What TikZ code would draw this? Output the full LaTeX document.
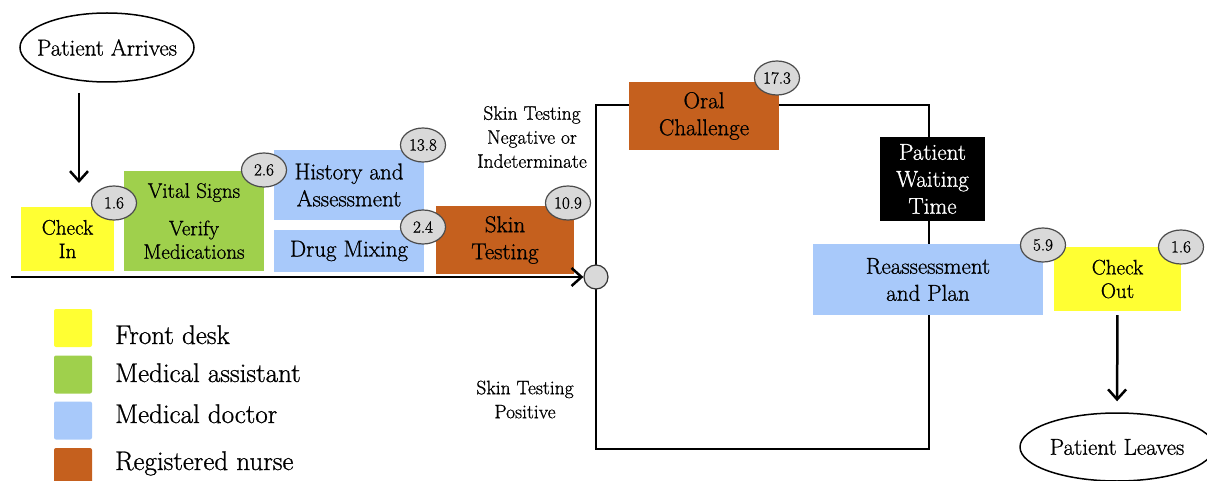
\documentclass[tikz,border=0pt]{standalone}
\usepackage{fontspec}
\setmainfont{Latin Modern Roman}[FakeBold=0.9]
\usetikzlibrary{arrows.meta,shapes.geometric,backgrounds}
\definecolor{fdesk}{HTML}{FFFF33}
\definecolor{massist}{HTML}{9FD04C}
\definecolor{mdoc}{HTML}{A8C9FA}
\definecolor{rnurse}{HTML}{C5601E}
\definecolor{badgefill}{HTML}{D9D9D9}
\begin{document}
\begin{tikzpicture}[x=1pt,y=-1pt,
  box/.style={rectangle, inner sep=0pt, align=center, font=\fontsize{23}{27}\selectfont},
  smallbox/.style={box, font=\fontsize{21}{23.5}\selectfont},
  badge/.style={ellipse, draw=black!70, line width=1.2pt, fill=badgefill, minimum width=45pt, minimum height=34pt, inner sep=0pt, font=\fontsize{17}{17}\selectfont},
  oval/.style={ellipse, draw, line width=1.5pt, fill=white, inner xsep=-16pt, inner ysep=0pt, font=\fontsize{23}{27}\selectfont},
  flow/.style={line width=2.5pt},
  arr/.style={flow, -{Straight Barb[length=10pt,width=18pt]}},
  lab/.style={align=center, inner sep=0pt, font=\fontsize{19.5}{24}\selectfont},
  legsq/.style={rectangle, minimum size=38pt, inner sep=0pt, rounded corners=2pt},
  legtxt/.style={anchor=base west, inner sep=0pt, font=\fontsize{27}{30}\selectfont}]
\useasboundingbox (0,0) rectangle (1207,481);

% start / end ovals
\node[oval, minimum width=174pt, minimum height=69pt] (arrive) at (107,47.5) {Patient Arrives};
\node[oval, minimum width=194pt, minimum height=68pt] (leave) at (1117,447) {Patient Leaves};

% activity boxes
\node[smallbox, fill=fdesk, minimum width=93pt, minimum height=64pt] (checkin) at (67.5,239) {Check\\In};
\node[smallbox, fill=massist, minimum width=140pt, minimum height=100pt] (vitals) at (194,221) {Vital Signs\\[14pt]Verify\\Medications};
\node[box, fill=mdoc, minimum width=150pt, minimum height=70pt] (history) at (349,185) {History and\\Assessment};
\node[box, fill=mdoc, minimum width=150pt, minimum height=42pt] (drug) at (349,251) {Drug Mixing};
\node[box, fill=rnurse, minimum width=138pt, minimum height=68pt] (skin) at (505,240) {Skin\\Testing};
\node[box, fill=rnurse, minimum width=150pt, minimum height=68pt] (oral) at (704,116) {Oral\\Challenge};
\node[box, fill=black, text=white, minimum width=105pt, minimum height=84pt] (wait) at (932.5,179) {Patient\\Waiting\\Time};
\node[box, fill=mdoc, minimum width=230pt, minimum height=71pt] (reass) at (928,279.5) {Reassessment\\and Plan};
\node[smallbox, fill=fdesk, minimum width=127pt, minimum height=64pt] (checkout) at (1117.5,279) {Check\\Out};

% time badges
\node[badge] (b1) at (114,203) {1.6};
\node[badge] (b2) at (264,170) {2.6};
\node[badge] (b3) at (423,145) {13.8};
\node[badge] (b4) at (423,227) {2.4};
\node[badge] (b5) at (568,203) {10.9};
\node[badge] (b6) at (777,78) {17.3};
\node[badge] (b7) at (1043,245) {5.9};
\node[badge] (b8) at (1181,247) {1.6};

% decision point
\node[circle, draw=black!80, line width=1.2pt, fill=badgefill, minimum size=24pt, inner sep=0pt] (dec) at (596,277) {};

% branch labels
\node[lab] (neg) at (532,137) {Skin Testing\\Negative or\\Indeterminate};
\node[lab] (pos) at (525,399.5) {Skin Testing\\Positive};

% connectors
\coordinate (arrA) at (79,93);
\coordinate (arrB) at (79,183);
\draw[arr] (arrA) -- (arrB);
\coordinate (mainstart) at (11,277);
\draw[arr] (mainstart) -- (dec.west);
\draw[arr, shorten <=4pt, shorten >=11pt] (checkout.south) -- (leave.north);

\coordinate (tl) at (596,105);
\coordinate (tr) at (929,105);
\coordinate (bl) at (596,449);
\coordinate (br) at (929,449);
\begin{scope}[on background layer]
\draw[flow, line join=miter] (dec.center) -- (tl) -- (tr) -- (tr |- wait.north);
\draw[flow] (tr |- wait.south) -- (tr |- reass.north);
\draw[flow, line join=miter] (dec.center) -- (bl) -- (br) -- (tr |- reass.south);
\end{scope}

% legend
\node[legsq, fill=fdesk] (l1) at (73,328) {};
\node[legsq, fill=massist] (l2) at (73,374.5) {};
\node[legsq, fill=mdoc] (l3) at (73,420.5) {};
\node[legsq, fill=rnurse] (l4) at (73,467) {};
\node[legtxt] (t1) at (115,344) {Front desk};
\node[legtxt] (t2) at (115,382) {Medical assistant};
\node[legtxt] (t3) at (115,423) {Medical doctor};
\node[legtxt] (t4) at (115,470) {Registered nurse};
\end{tikzpicture}
\end{document}
